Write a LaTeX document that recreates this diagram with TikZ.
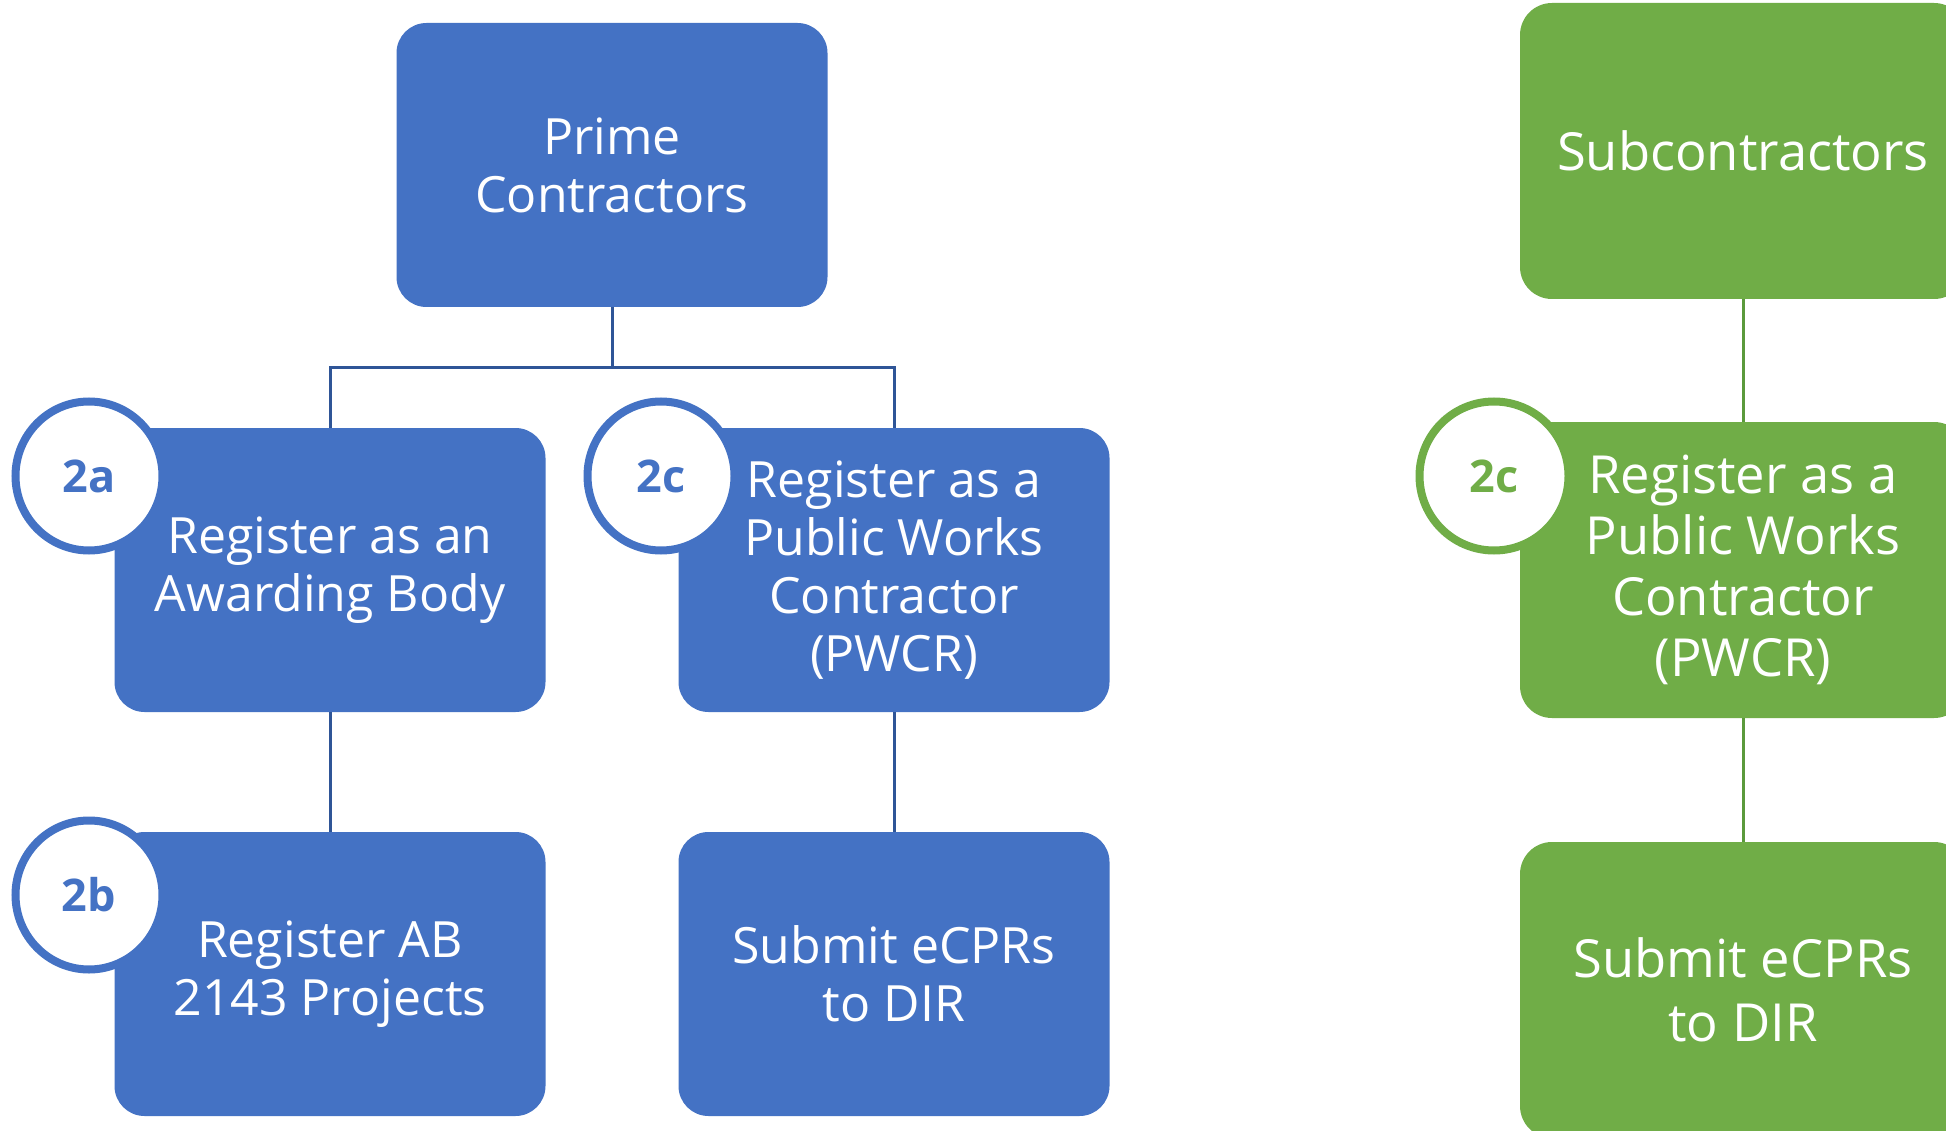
\documentclass[tikz,border=0pt]{standalone}
\usepackage{fontspec}
\setmainfont{Open Sans}
\usetikzlibrary{shapes.geometric}
\definecolor{primeblue}{HTML}{4472C4}
\definecolor{subgreen}{HTML}{70AD47}
\definecolor{blueline}{HTML}{2F5597}
\definecolor{greenline}{HTML}{5B9A3C}

\begin{document}
\begin{tikzpicture}[x=1pt,y=-1pt,
  card/.style={rounded corners=30pt, inner sep=0pt, align=center, text=white},
  bluecard/.style={card, fill=primeblue, minimum width=431pt, minimum height=284pt,
    font=\fontsize{50}{58}\selectfont},
  greencard/.style={card, fill=subgreen, rounded corners=32pt, minimum width=446pt,
    minimum height=296pt, font=\fontsize{52.5}{61}\selectfont},
  badge/.style={ellipse, fill=white, line width=8pt, inner sep=0pt,
    font=\bfseries\fontsize{45}{45}\selectfont},
  bluebadge/.style={badge, draw=primeblue, text=primeblue, minimum width=147pt, minimum height=149pt},
  greenbadge/.style={badge, draw=subgreen, text=subgreen, minimum width=149pt, minimum height=149pt},
  bluelink/.style={draw=blueline, line width=3pt},
  greenlink/.style={draw=greenline, line width=3pt},
]
\clip (0,0) rectangle (1946,1131);
\fill[white] (0,0) rectangle (1946,1131);

% prime contractor branch
\node[bluecard] (prime) at (612,165) {Prime\\Contractors};
\node[bluecard] (aa) at (330,570) {Register as an\\Awarding Body};
\node[bluecard] (cc) at (894,570) {Register as a\\Public Works\\Contractor\\(PWCR)};
\node[bluecard] (bb) at (330,974) {Register AB\\2143 Projects};
\node[bluecard] (ecpr) at (894,974) {Submit eCPRs\\to DIR};

\coordinate (bus) at (612,368);
\draw[bluelink] (prime.south) -- (bus);
\draw[bluelink] (aa.north) |- (bus);
\draw[bluelink] (bus) -| (cc.north);
\draw[bluelink] (aa.south) -- (bb.north);
\draw[bluelink] (cc.south) -- (ecpr.north);

\node[bluebadge] (badgeA) at (89,476) {2a};
\node[bluebadge] (badgeC) at (661,476) {2c};
\node[bluebadge] (badgeB) at (89,895) {2b};

% subcontractor branch
\node[greencard] (sub) at (1743,151) {Subcontractors};
\node[greencard] (gc) at (1743,570) {Register as a\\Public Works\\Contractor\\(PWCR)};
\node[greencard, font=\fontsize{52.5}{64}\selectfont] (gecpr) at (1743,990) {Submit eCPRs\\to DIR};

\draw[greenlink] (sub.south) -- (gc.north);
\draw[greenlink] (gc.south) -- (gecpr.north);

\node[greenbadge] (badgeG) at (1494,476) {2c};
\end{tikzpicture}
\end{document}
